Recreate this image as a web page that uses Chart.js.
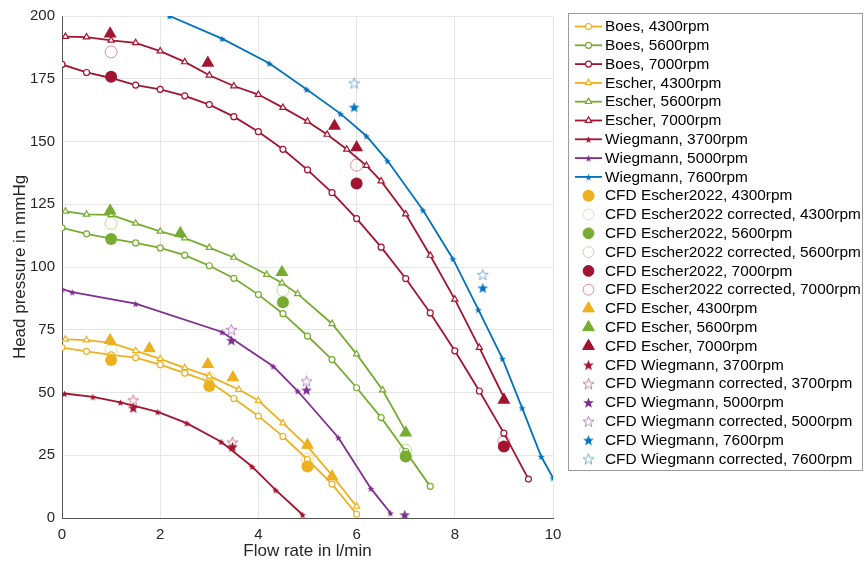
<!DOCTYPE html>
<html>
<head>
<meta charset="utf-8">
<script src="https://cdn.jsdelivr.net/npm/chart.js@4/dist/chart.umd.min.js"></script>
<style>
  html, body { margin: 0; padding: 0; background: #fff; }
</style>
</head>
<body>
<canvas id="grafico" width="866" height="565"></canvas>
<script>
// curvas medidas [caudal l/min, presión mmHg]
const boes4300 = [[0, 67.9], [0.5, 66.4], [1, 65.0], [1.5, 63.9], [2, 61.1], [2.5, 57.7], [3, 54.3], [3.5, 47.6], [4, 40.6], [4.5, 32.5], [5, 23.3], [5.5, 13.5], [6, 1.5]];
const boes5600 = [[0, 115.6], [0.5, 113.2], [1, 111.3], [1.5, 109.6], [2, 107.6], [2.5, 104.7], [3, 100.5], [3.5, 95.5], [4, 89.0], [4.5, 81.4], [5, 72.5], [5.5, 63.1], [6, 51.9], [6.5, 40.0], [7, 26.5], [7.5, 12.6]];
const boes7000 = [[0, 180.7], [0.5, 177.5], [1, 175.3], [1.5, 172.5], [2, 170.8], [2.5, 168.2], [3, 164.7], [3.5, 159.9], [4, 153.9], [4.5, 146.9], [5, 138.7], [5.5, 129.6], [6, 119.3], [6.5, 107.9], [7, 95.4], [7.5, 81.7], [8, 66.6], [8.5, 50.6], [9, 33.8], [9.5, 15.5]];
const escher4300 = [[0.07, 71.2], [0.5, 70.9], [1, 69.8], [1.5, 66.6], [2, 63.4], [2.5, 59.8], [3, 56.5], [3.6, 51.2], [4, 46.8], [4.5, 37.8], [5, 28.5], [5.5, 17.0], [6, 4.6]];
const escher5600 = [[0.07, 122.2], [0.5, 121.0], [1, 120.8], [1.5, 117.4], [2, 114.2], [2.5, 111.5], [3, 107.7], [3.5, 103.8], [4.17, 97.0], [4.48, 93.6], [4.8, 89.3], [5.5, 77.4], [6, 65.3], [6.53, 51.0], [7, 34.5]];
const escher7000 = [[0.07, 191.8], [0.5, 191.6], [1, 190.3], [1.5, 189.3], [2, 186.0], [2.5, 181.7], [3, 176.4], [3.5, 172.1], [4, 168.7], [4.5, 163.5], [5, 158.0], [5.4, 152.8], [5.8, 146.9], [6.2, 140.4], [6.5, 134.2], [7, 121.1], [7.5, 104.6], [8, 87.1], [8.5, 67.9], [9, 48.0]];
const wieg3700 = [[0.05, 49.6], [0.63, 48.3], [1.19, 46.1], [1.95, 42.3], [2.54, 37.8], [3.24, 30.4], [3.87, 20.5], [4.35, 11.2], [4.9, 1.3]];
const wieg5000 = [[0, 91.2], [0.21, 90.0], [1.5, 85.4], [3.26, 74.1], [4.3, 60.5], [4.8, 50.6], [5.63, 32.0], [6.29, 11.8], [6.69, 2.0]];
const wieg7600 = [[2.19, 200], [3.26, 191.0], [4.22, 181.2], [4.98, 170.8], [5.67, 161.1], [6.2, 152.2], [6.63, 142.3], [7.35, 122.7], [7.96, 103.3], [8.48, 83.0], [8.97, 63.5], [9.37, 43.9], [9.76, 24.5], [10, 16.0]];

// simulaciones CFD
const cfdE22_4300 = [[1, 62.9], [3, 52.6], [5, 20.5]];
const cfdE22c_4300 = [[1, 67.1], [3, 55.8], [5, 23.4]];
const cfdE22_5600 = [[1, 111.2], [4.5, 86.0], [7, 24.5]];
const cfdE22c_5600 = [[1, 117.4], [4.5, 90.7], [7, 27.0]];
const cfdE22_7000 = [[1, 175.8], [6, 133.3], [9, 28.5]];
const cfdE22c_7000 = [[1, 185.7], [6, 140.6], [9, 30.4]];
const cfdE_4300 = [[0.98, 70.8], [1.78, 67.5], [2.97, 61.3], [3.48, 56.0], [5, 29.1], [5.5, 16.5]];
const cfdE_5600 = [[0.98, 122.4], [2.41, 113.4], [4.48, 97.9], [7, 34.0]];
const cfdE_7000 = [[0.98, 192.9], [2.97, 181.3], [5.55, 156.2], [6, 147.6], [9, 47.0]];
const cfdW_3700 = [[1.45, 43.9], [3.47, 28.4]];
const cfdWc_3700 = [[1.45, 47.0], [3.47, 30.2]];
const cfdW_5000 = [[3.45, 70.8], [4.98, 51.0], [6.98, 1.3]];
const cfdWc_5000 = [[3.45, 75.1], [4.98, 54.6]];
const cfdW_7600 = [[5.95, 163.7], [8.57, 91.7]];
const cfdWc_7600 = [[5.95, 173.3], [8.57, 97.0]];

const ticksX = [0, 2, 4, 6, 8, 10];
const ticksY = [0, 25, 50, 75, 100, 125, 150, 175, 200];

const amarillo = '#EDB120', verde = '#77AC30', rojo = '#A2142F', morado = '#7E2F8E', azul = '#0072BD';
const fuente = "'Liberation Sans', Arial, Helvetica, sans-serif";

function aclarar(hex, a) {
  const n = parseInt(hex.slice(1), 16);
  return `rgba(${n >> 16},${(n >> 8) & 255},${n & 255},${a})`;
}

// pentagrama como imagen para pointStyle
function estrella(color, relleno, tam) {
  const c = document.createElement('canvas');
  c.width = c.height = tam;
  const g = c.getContext('2d');
  const r = tam / 2 - 0.8, cx = tam / 2, cy = tam / 2 + 0.6;
  g.beginPath();
  for (let k = 0; k < 10; k++) {
    const rr = k % 2 ? r * 0.42 : r;
    const a = -Math.PI / 2 + k * Math.PI / 5;
    g.lineTo(cx + rr * Math.cos(a), cy + rr * Math.sin(a));
  }
  g.closePath();
  if (relleno) { g.fillStyle = color; g.fill(); }
  else { g.strokeStyle = color; g.lineWidth = 0.9; g.stroke(); }
  return c;
}

const xy = p => p.map(([x, y]) => ({ x, y }));

function curva(label, puntos, color, marca) {
  const ds = {
    label, data: xy(puntos), showLine: true, tension: 0,
    borderColor: color, borderWidth: 1.8,
    pointBorderColor: color, pointBorderWidth: 1.2
  };
  if (marca === 'o') Object.assign(ds, { pointStyle: 'circle', pointRadius: 3, pointBackgroundColor: '#fff' });
  if (marca === '^') Object.assign(ds, { pointStyle: 'triangle', pointRadius: 3.6, pointBackgroundColor: '#fff' });
  if (marca === '*') Object.assign(ds, { pointStyle: estrella(color, true, 9), pointRadius: 4 });
  return ds;
}

function puntosCFD(label, puntos, color, marca) {
  const ds = { label, data: xy(puntos), showLine: false, borderColor: color, pointBorderColor: color };
  if (marca === 'o') Object.assign(ds, { pointStyle: 'circle', pointRadius: 6, pointBackgroundColor: color, pointBorderWidth: 0 });
  if (marca === 'oc') Object.assign(ds, { pointStyle: 'circle', pointRadius: 6, pointBackgroundColor: 'rgba(0,0,0,0)', pointBorderColor: aclarar(color, 0.45), pointBorderWidth: 1 });
  if (marca === '^') Object.assign(ds, { pointStyle: 'triangle', pointRadius: 7.5, pointBackgroundColor: color, pointBorderWidth: 0 });
  if (marca === '*') Object.assign(ds, { pointStyle: estrella(color, true, 13), pointRadius: 6 });
  if (marca === '*c') Object.assign(ds, { pointStyle: estrella(aclarar(color, 0.6), false, 13), pointRadius: 6 });
  return ds;
}

const series = [
  curva('Boes, 4300rpm', boes4300, amarillo, 'o'),
  curva('Boes, 5600rpm', boes5600, verde, 'o'),
  curva('Boes, 7000rpm', boes7000, rojo, 'o'),
  curva('Escher, 4300rpm', escher4300, amarillo, '^'),
  curva('Escher, 5600rpm', escher5600, verde, '^'),
  curva('Escher, 7000rpm', escher7000, rojo, '^'),
  curva('Wiegmann, 3700rpm', wieg3700, rojo, '*'),
  curva('Wiegmann, 5000rpm', wieg5000, morado, '*'),
  curva('Wiegmann, 7600rpm', wieg7600, azul, '*'),
  puntosCFD('CFD Escher2022, 4300rpm', cfdE22_4300, amarillo, 'o'),
  puntosCFD('CFD Escher2022 corrected, 4300rpm', cfdE22c_4300, amarillo, 'oc'),
  puntosCFD('CFD Escher2022, 5600rpm', cfdE22_5600, verde, 'o'),
  puntosCFD('CFD Escher2022 corrected, 5600rpm', cfdE22c_5600, verde, 'oc'),
  puntosCFD('CFD Escher2022, 7000rpm', cfdE22_7000, rojo, 'o'),
  puntosCFD('CFD Escher2022 corrected, 7000rpm', cfdE22c_7000, rojo, 'oc'),
  puntosCFD('CFD Escher, 4300rpm', cfdE_4300, amarillo, '^'),
  puntosCFD('CFD Escher, 5600rpm', cfdE_5600, verde, '^'),
  puntosCFD('CFD Escher, 7000rpm', cfdE_7000, rojo, '^'),
  puntosCFD('CFD Wiegmann, 3700rpm', cfdW_3700, rojo, '*'),
  puntosCFD('CFD Wiegmann corrected, 3700rpm', cfdWc_3700, rojo, '*c'),
  puntosCFD('CFD Wiegmann, 5000rpm', cfdW_5000, morado, '*'),
  puntosCFD('CFD Wiegmann corrected, 5000rpm', cfdWc_5000, morado, '*c'),
  puntosCFD('CFD Wiegmann, 7600rpm', cfdW_7600, azul, '*'),
  puntosCFD('CFD Wiegmann corrected, 7600rpm', cfdWc_7600, azul, '*c')
];
// las últimas series quedan encima
series.forEach((ds, i) => { ds.order = series.length - i; });

// leyenda dibujada a mano: línea + marcador, caja gris
const leyenda = {
  id: 'leyenda',
  afterDraw(chart) {
    const ctx = chart.ctx;
    const x0 = 568.5, y0 = 13.5, ancho = 294, alto = 457, paso = 18.8, yPrimera = 26.5;
    ctx.save();
    ctx.fillStyle = '#fff';
    ctx.fillRect(x0, y0, ancho, alto);
    ctx.strokeStyle = '#9a9a9a';
    ctx.lineWidth = 1;
    ctx.strokeRect(x0, y0, ancho, alto);
    ctx.font = `15.4px ${fuente}`;
    ctx.textBaseline = 'middle';
    series.forEach((ds, i) => {
      const y = yPrimera + i * paso;
      if (ds.showLine) {
        ctx.strokeStyle = ds.borderColor;
        ctx.lineWidth = ds.borderWidth;
        ctx.beginPath();
        ctx.moveTo(575, y);
        ctx.lineTo(602, y);
        ctx.stroke();
      }
      ctx.fillStyle = ds.pointBackgroundColor || ds.borderColor;
      ctx.strokeStyle = ds.pointBorderColor;
      ctx.lineWidth = ds.pointBorderWidth || 0;
      const r = ds.showLine ? ds.pointRadius : ds.pointRadius * 0.9;
      Chart.helpers.drawPoint(ctx, { pointStyle: ds.pointStyle, radius: r, rotation: 0, borderWidth: ctx.lineWidth }, 588.5, y);
      ctx.fillStyle = '#000';
      ctx.fillText(ds.label, 605, y + 0.5);
    });
    ctx.restore();
  }
};

new Chart(document.getElementById('grafico'), {
  type: 'scatter',
  data: { datasets: series },
  plugins: [leyenda],
  options: {
    responsive: false,
    animation: false,
    layout: { padding: { top: 15, right: 313, left: 0, bottom: 0 } },
    plugins: { legend: { display: false }, tooltip: { enabled: false } },
    scales: {
      x: {
        type: 'linear', min: 0, max: 10,
        afterFit: s => { s.height = 47; },
        afterBuildTicks: s => { s.ticks = ticksX.map(v => ({ value: v })); },
        grid: { color: '#e6e6e6', drawTicks: false },
        border: { color: '#555', width: 1 },
        ticks: { color: '#262626', padding: 8, font: { family: fuente, size: 15 } },
        title: { display: true, text: 'Flow rate in l/min', color: '#262626', padding: { top: 0, bottom: 3 }, font: { family: fuente, size: 17 } }
      },
      y: {
        type: 'linear', min: 0, max: 200,
        afterFit: s => { s.width = 62; },
        afterBuildTicks: s => { s.ticks = ticksY.map(v => ({ value: v })); },
        grid: { color: '#e6e6e6', drawTicks: false },
        border: { color: '#555', width: 1 },
        ticks: { color: '#262626', padding: 7, font: { family: fuente, size: 15 } },
        title: { display: true, text: 'Head pressure in mmHg', color: '#262626', padding: { top: 10, bottom: 0 }, font: { family: fuente, size: 17 } }
      }
    }
  }
});
</script>
</body>
</html>
